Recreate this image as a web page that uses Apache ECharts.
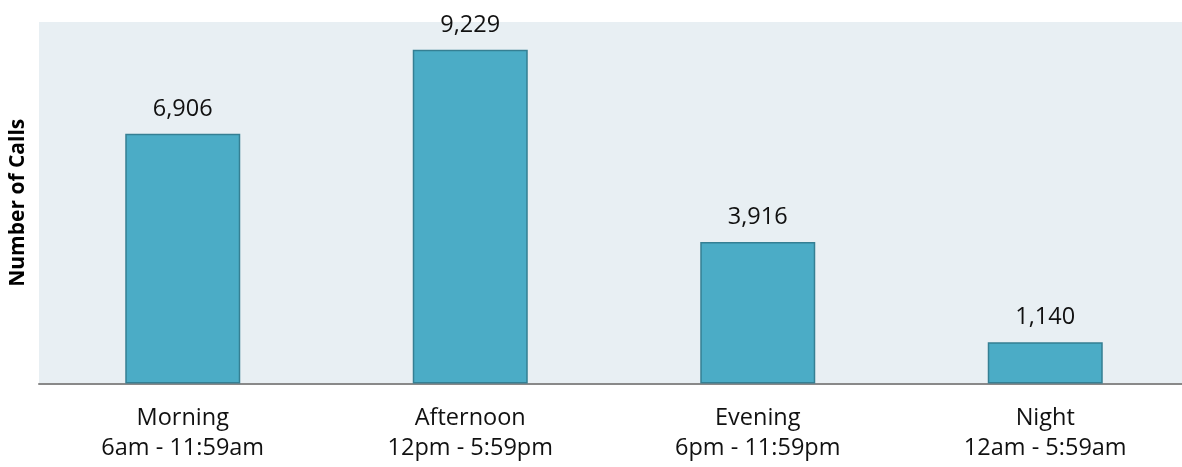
<!DOCTYPE html>
<html>
<head>
<meta charset="utf-8">
<script src="https://cdn.jsdelivr.net/npm/echarts@6/dist/echarts.min.js"></script>
<style>
  html, body { margin: 0; padding: 0; background: #ffffff; }
  #chart { width: 1182px; height: 467px; }
</style>
</head>
<body>
<div id="chart"></div>
<script>
// Calls received by time of day
const periods = ['Morning', 'Afternoon', 'Evening', 'Night'];
const timeRanges = ['6am - 11:59am', '12pm - 5:59pm', '6pm - 11:59pm', '12am - 5:59am'];
const calls = [6906, 9229, 3916, 1140];

const fontFamily = '"Open Sans", "Liberation Sans", sans-serif';
const categories = periods.map((p, i) => p + '\n' + timeRanges[i]);

const chart = echarts.init(document.getElementById('chart'), null, { renderer: 'canvas' });
chart.setOption({
  animation: false,
  backgroundColor: '#ffffff',
  grid: {
    left: 39,
    right: -7,
    top: 22,
    bottom: 83.5,
    containLabel: false,
    outerBoundsMode: 'none',
    show: true,
    backgroundColor: '#e8eff3',
    borderWidth: 0
  },
  xAxis: {
    type: 'category',
    data: categories,
    axisLine: { show: true, lineStyle: { color: '#898989', width: 2 } },
    axisTick: { show: false },
    axisLabel: {
      color: '#111111',
      fontFamily: fontFamily,
      fontSize: 23.5,
      lineHeight: 30,
      margin: 20
    }
  },
  yAxis: {
    type: 'value',
    min: 0,
    max: 10000,
    interval: 2000,
    name: 'Number of Calls',
    nameLocation: 'middle',
    nameRotate: 90,
    nameGap: 10,
    nameTextStyle: {
      color: '#000000',
      fontFamily: fontFamily,
      fontWeight: 'bold',
      fontSize: 21
    },
    axisLine: { show: false },
    axisTick: { show: false },
    axisLabel: { show: false },
    splitLine: { show: false }
  },
  series: [{
    type: 'bar',
    data: calls,
    barWidth: '40%',
    itemStyle: {
      color: '#4bacc6',
      borderColor: '#357f93',
      borderWidth: 1.5
    },
    label: {
      show: true,
      position: 'top',
      distance: 13,
      color: '#111111',
      fontFamily: fontFamily,
      fontSize: 23.5,
      formatter: p => p.value.toLocaleString('en-US')
    }
  }]
});
</script>
</body>
</html>
